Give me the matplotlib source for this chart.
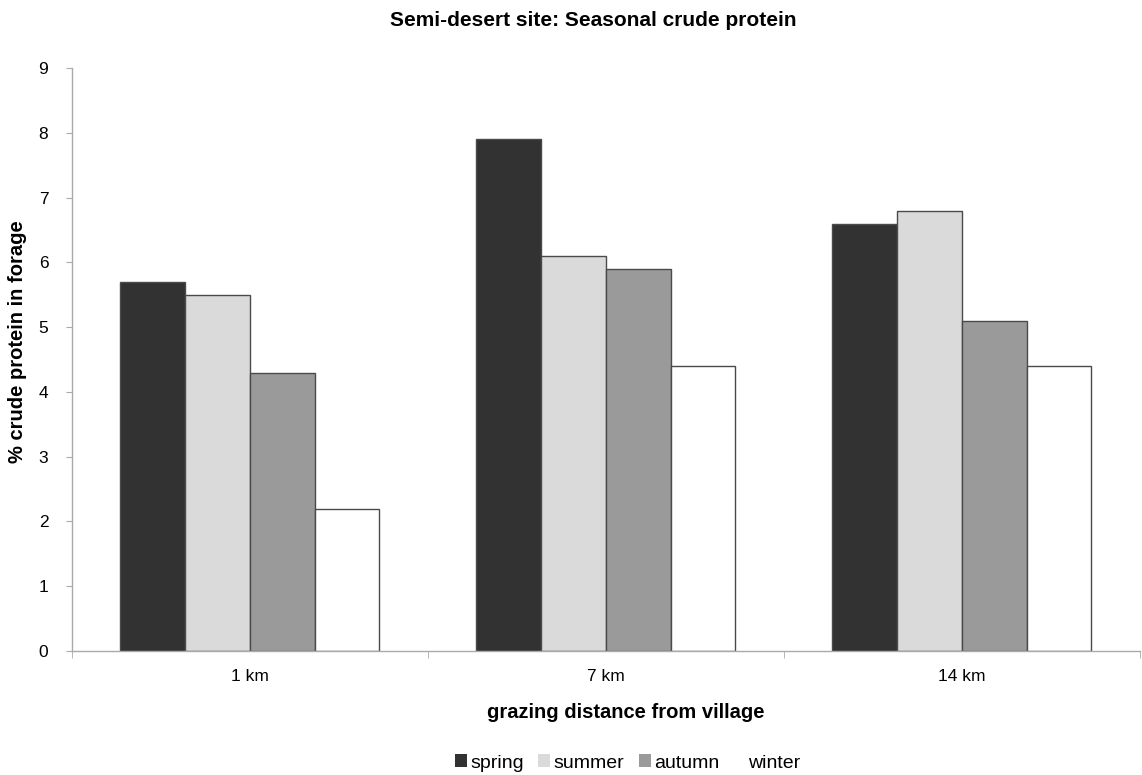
import matplotlib.pyplot as plt
import numpy as np
from matplotlib.patches import Patch

categories = ["1 km", "7 km", "14 km"]
seasons = ["spring", "summer", "autumn", "winter"]
spring = [5.7, 7.9, 6.6]
summer = [5.5, 6.1, 6.8]
autumn = [4.3, 5.9, 5.1]
winter = [2.2, 4.4, 4.4]
yticks = [0, 1, 2, 3, 4, 5, 6, 7, 8, 9]

series = [spring, summer, autumn, winter]
colors = ["#323232", "#dadada", "#9a9a9a", "#ffffff"]

plt.rcParams["font.family"] = ["Liberation Sans", "DejaVu Sans"]

fig = plt.figure(figsize=(11.42, 7.75), dpi=100)
ax = fig.add_axes([0.063, 0.16, 0.935, 0.752])

x = np.arange(len(categories)) + 0.5
width = 0.182
for i, (vals, c) in enumerate(zip(series, colors)):
    offs = (i - 1.5) * width
    ax.bar(x + offs, vals, width, color=c, edgecolor="#4a4a4a",
           linewidth=1.0, label=seasons[i], zorder=2)

ax.set_xlim(0, 3)
ax.set_ylim(0, 9)
ax.set_yticks(yticks)
ax.set_yticklabels([str(t) for t in yticks], fontsize=12.5)
ax.set_xticks(x)
ax.set_xticklabels(categories, fontsize=12.5)
ax.tick_params(axis="x", length=0, pad=13)
ax.set_xticks([0, 1, 2, 3], minor=True)
ax.tick_params(axis="x", which="minor", length=5, color="#aaaaaa")
ax.tick_params(axis="y", length=4, color="#aaaaaa", pad=13)

for s in ["top", "right"]:
    ax.spines[s].set_visible(False)
for s in ["left", "bottom"]:
    ax.spines[s].set_color("#aaaaaa")
    ax.spines[s].set_linewidth(1.0)

fig.text(593 / 1142, 1 - 20 / 775, "Semi-desert site: Seasonal crude protein",
         fontsize=15, fontweight="bold", ha="center", va="center")
fig.text(626 / 1142, 1 - 712 / 775, "grazing distance from village",
         fontsize=14.5, fontweight="bold", ha="center", va="center")
fig.text(18 / 1142, 1 - 342 / 775, "% crude protein in forage",
         fontsize=14.5, fontweight="bold", ha="center", va="center",
         rotation=90)

handles = [Patch(facecolor=c, edgecolor="none") for c in colors]
fig.legend(handles, seasons, loc="center", bbox_to_anchor=(628 / 1142, 1 - 763 / 775),
           ncol=4, frameon=False, fontsize=14, handlelength=0.62,
           handleheight=0.62, handletextpad=0.15, columnspacing=0.75,
           borderpad=0.2)

fig.savefig("out.png", dpi=100, facecolor="white")
